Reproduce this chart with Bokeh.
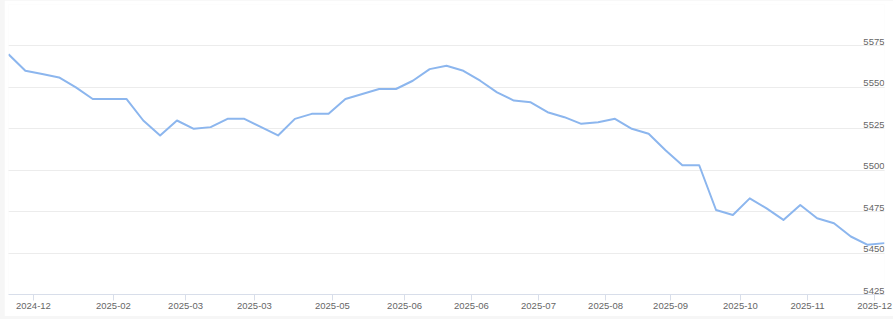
from bokeh.plotting import figure
from bokeh.models import Range1d, FixedTicker, Grid, ColumnDataSource
from bokeh.layouts import column
from bokeh.core.properties import value
from bokeh.embed import file_html
from bokeh.resources import INLINE

# ---- data ----
values = [5570, 5560, 5558, 5556, 5550, 5543, 5543, 5543, 5530, 5521,
          5530, 5525, 5526, 5531, 5531, 5526, 5521, 5531, 5534, 5534,
          5543, 5546, 5549, 5549, 5554, 5561, 5563, 5560, 5554, 5547,
          5542, 5541, 5535, 5532, 5528, 5529, 5531, 5525, 5522, 5512,
          5503, 5503, 5476, 5473, 5483, 5477, 5470, 5479, 5471, 5468,
          5460, 5455, 5456]
x_tick_pos = [1.48, 6.23, 10.51, 14.60, 19.23, 23.51, 27.48, 31.46,
              35.44, 39.30, 43.45, 47.43, 51.41]
x_tick_labels = ["2024-12", "2025-02", "2025-03", "2025-03", "2025-05",
                 "2025-06", "2025-06", "2025-07", "2025-08", "2025-09",
                 "2025-10", "2025-11", "2025-12"]
y_ticks = [5425, 5450, 5475, 5500, 5525, 5550, 5575, 5600]
y_labels = [5425, 5450, 5475, 5500, 5525, 5550, 5575]

idx = list(range(len(values)))
n_last = idx[-1]

FONT = "Liberation Sans"

p = figure(width=889, height=316, output_backend="svg", toolbar_location=None,
           x_range=Range1d(0, n_last), y_range=Range1d(y_ticks[0], y_ticks[-1]),
           y_axis_location=None, min_border_left=4, min_border_right=9,
           min_border_top=4, min_border_bottom=22, margin=(0, 0, 3, 4),
           border_fill_color="white", background_fill_color="white",
           outline_line_color=None)

p.xgrid.visible = False
p.add_layout(Grid(dimension=1, ticker=FixedTicker(ticks=y_ticks),
                  grid_line_color="#ececec", grid_line_width=1))

ax = p.xaxis[0]
ax.ticker = FixedTicker(ticks=x_tick_pos)
ax.major_label_overrides = {pos: lab for pos, lab in zip(x_tick_pos, x_tick_labels)}
ax.axis_line_color = "#d8deea"
ax.major_tick_line_color = "#d8deea"
ax.major_tick_out = 6
ax.major_tick_in = 0
ax.minor_tick_line_color = None
ax.major_label_text_font = FONT
ax.major_label_text_font_size = "9.5px"
ax.major_label_text_color = "#666666"
ax.major_label_standoff = 2

lab_src = ColumnDataSource(dict(x=[n_last] * len(y_labels), y=y_labels,
                                t=[str(v) for v in y_labels]))
p.text(x="x", y="y", text="t", source=lab_src, text_align="right",
       text_baseline="bottom", y_offset=-1, text_font=value(FONT),
       text_font_size="9.5px", text_color="#666666")

p.line(idx, values, line_color="#8cb6ee", line_width=2, line_join="round")

layout = column(p, styles={"background-color": "#f6f6f6"})

open("out.html", "w").write(file_html(layout, INLINE))
